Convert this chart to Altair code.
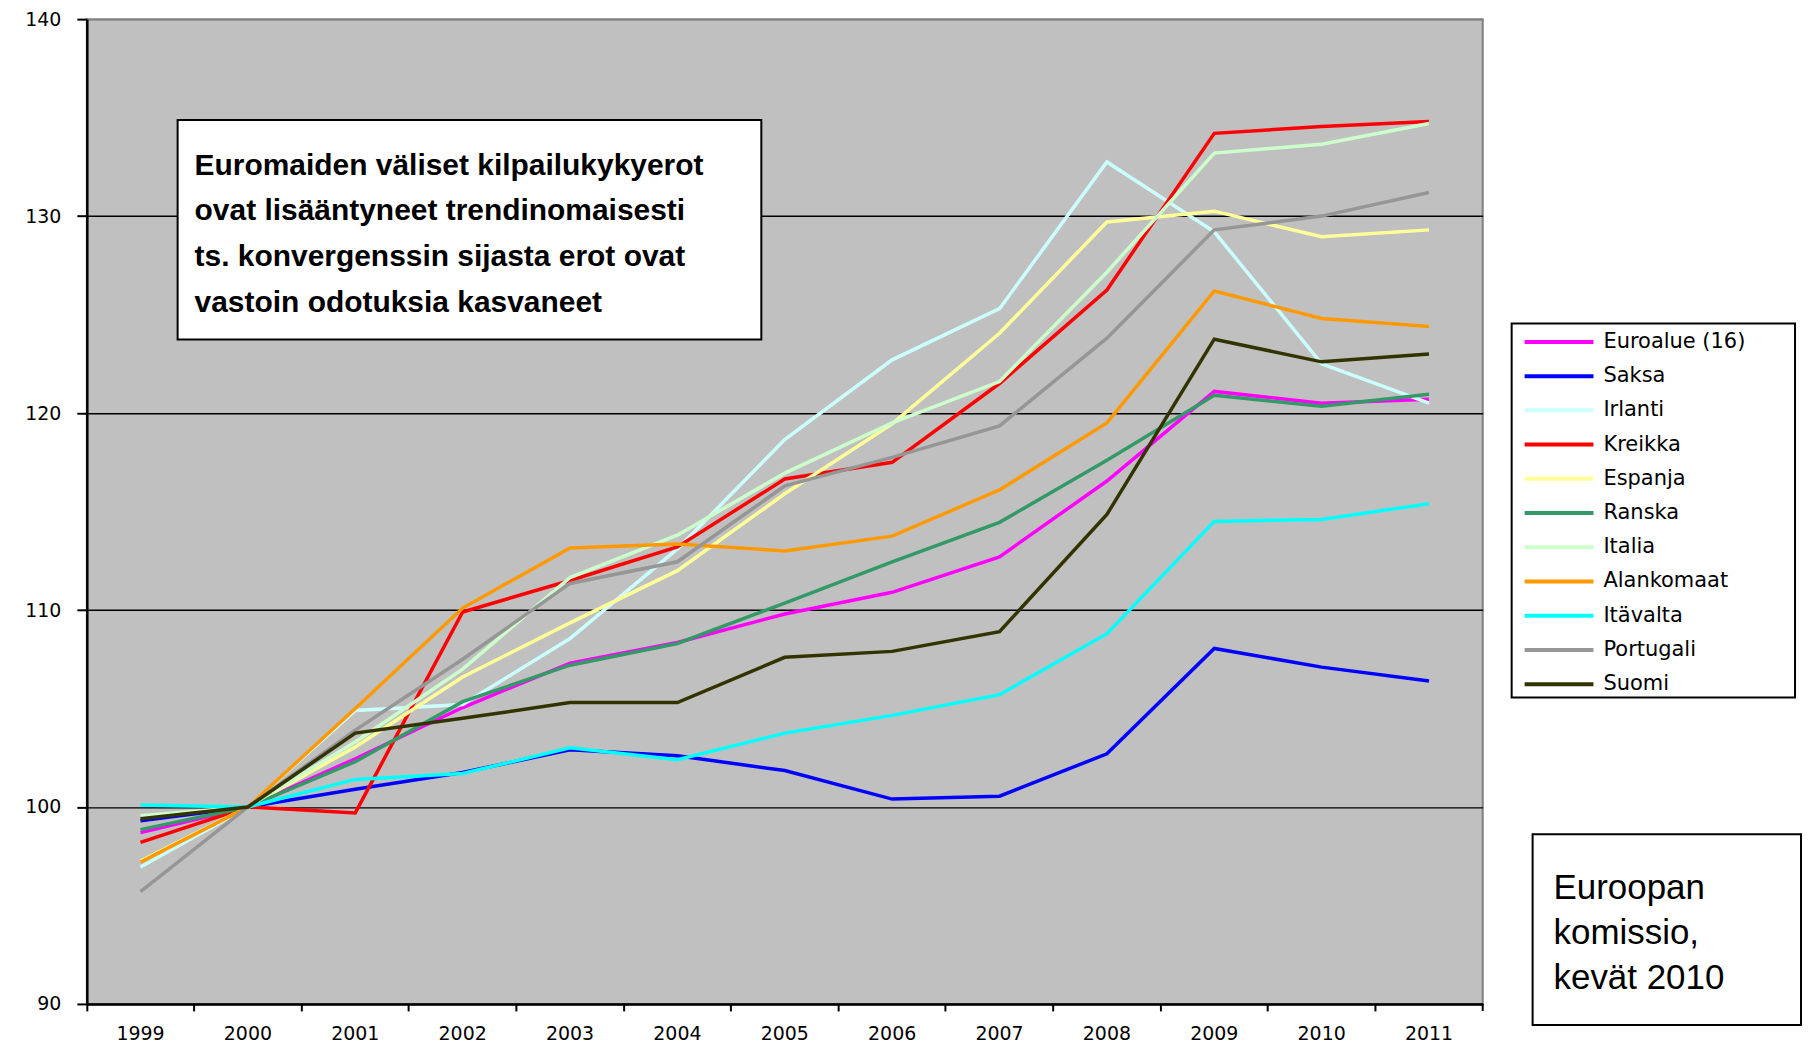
import altair as alt
import pandas as pd

# ---- data ----
years = [str(y) for y in range(1999, 2012)]
series = ["Euroalue (16)", "Saksa", "Irlanti", "Kreikka", "Espanja", "Ranska",
          "Italia", "Alankomaat", "Itävalta", "Portugali", "Suomi"]
colors = ["#FF00FF", "#0000FF", "#CCFFFF", "#FF0000", "#FFFF99", "#339966",
          "#CCFFCC", "#FF9900", "#00FFFF", "#969696", "#333300"]

euroalue = [98.7, 100, 102.45, 105.05, 107.3, 108.35, 109.8, 110.9, 112.7, 116.55, 121.1, 120.5, 120.7]
saksa = [99.3, 100, 100.9, 101.75, 102.9, 102.6, 101.85, 100.4, 100.55, 102.7, 108.05, 107.1, 106.4]
irlanti = [96.95, 100, 104.9, 105.2, 108.55, 113.1, 118.65, 122.7, 125.3, 132.75, 129.2, 122.5, 120.5]
kreikka = [98.2, 100, 99.7, 109.9, 111.5, 113.2, 116.65, 117.5, 121.5, 126.25, 134.2, 134.55, 134.8]
espanja = [97.25, 100, 103.05, 106.6, 109.35, 112.0, 115.9, 119.45, 124.05, 129.7, 130.25, 128.95, 129.3]
ranska = [98.85, 100, 102.3, 105.35, 107.2, 108.3, 110.35, 112.45, 114.45, 117.6, 120.9, 120.35, 120.95]
italia = [99.55, 100, 103.3, 107.0, 111.65, 113.8, 116.95, 119.5, 121.6, 127.15, 133.2, 133.65, 134.7]
alankomaat = [97.2, 100, 105.0, 110.1, 113.15, 113.35, 113.0, 113.75, 116.1, 119.5, 126.2, 124.8, 124.4]
itavalta = [100.1, 100, 101.4, 101.7, 103.0, 102.4, 103.75, 104.65, 105.7, 108.8, 114.5, 114.6, 115.4]
portugali = [95.7, 100, 103.9, 107.5, 111.35, 112.45, 116.3, 117.75, 119.35, 123.8, 129.3, 130.0, 131.2]
suomi = [99.4, 100, 103.75, 104.5, 105.3, 105.3, 107.6, 107.9, 108.9, 114.85, 123.75, 122.6, 123.0]

all_values = [euroalue, saksa, irlanti, kreikka, espanja, ranska,
              italia, alankomaat, itavalta, portugali, suomi]

y_ticks = [90, 100, 110, 120, 130, 140]

note_lines = ["Euromaiden väliset kilpailukykyerot",
              "ovat lisääntyneet trendinomaisesti",
              "ts. konvergenssin sijasta erot ovat",
              "vastoin odotuksia kasvaneet"]
source_lines = ["Euroopan", "komissio,", "kevät 2010"]

rows = []
for name, vals in zip(series, all_values):
    for yr, v in zip(years, vals):
        rows.append({"vuosi": yr, "indeksi": v, "maa": name})
df = pd.DataFrame(rows)

W, H = 1399, 987
TOP = 10  # plot top in svg coordinates

lines = alt.Chart(df).mark_line(strokeWidth=3.5).encode(
    x=alt.X("vuosi:O", title=None, bandPosition=0.5,
            scale=alt.Scale(type="band", paddingInner=0, paddingOuter=0),
            axis=alt.Axis(bandPosition=0, labelAngle=0,
                          tickSize=7, tickWidth=2, tickColor="black",
                          domainColor="black", domainWidth=2.5,
                          labelPadding=14, labelFont="DejaVu Sans",
                          labelFontSize=19, labelColor="black", grid=False)),
    y=alt.Y("indeksi:Q", title=None,
            scale=alt.Scale(domain=[90, 140], nice=False, zero=False),
            axis=alt.Axis(values=y_ticks, grid=True,
                          gridColor={"condition": {"test": "datum.value === 140", "value": "#808080"},
                                     "value": "black"},
                          gridWidth=1.5, tickSize=10, tickWidth=2, tickColor="black",
                          domainColor="black", domainWidth=2.5, labelPadding=16,
                          labelFont="DejaVu Sans", labelFontSize=19, labelColor="black")),
    color=alt.Color("maa:N", sort=series,
                    scale=alt.Scale(domain=series, range=colors),
                    legend=alt.Legend(title=None, orient="none", legendX=1441, legendY=313,
                                      padding=0,
                                      symbolType="M-1.3125,0H7.3125", symbolSize=256,
                                      symbolStrokeWidth=4, labelFont="DejaVu Sans",
                                      labelFontSize=21, labelColor="black",
                                      rowPadding=12.3, labelOffset=58)),
)

one = pd.DataFrame([{"k": 0}])

# last x tick at the right end of the axis
end_tick = alt.Chart(one).mark_rule(color="black", strokeWidth=2).encode(
    x=alt.value(W), y=alt.value(H), y2=alt.value(H + 7))

legend_box = alt.Chart(one).mark_rect(fill="white", stroke="black", strokeWidth=2).encode(
    x=alt.value(1428), x2=alt.value(1712), y=alt.value(305), y2=alt.value(680))

note_box = alt.Chart(one).mark_rect(fill="white", stroke="black", strokeWidth=2).encode(
    x=alt.value(91), x2=alt.value(676), y=alt.value(101), y2=alt.value(321))
note_text = alt.Chart(one).mark_text(
    text=note_lines, align="left", baseline="alphabetic", font="Liberation Sans",
    fontWeight="bold", fontSize=30, lineHeight=45.7, color="black").encode(
    x=alt.value(108), y=alt.value(156))

src_box = alt.Chart(one).mark_rect(fill="white", stroke="black", strokeWidth=2).encode(
    x=alt.value(1449), x2=alt.value(1718), y=alt.value(817), y2=alt.value(1008))
src_text = alt.Chart(one).mark_text(
    text=source_lines, align="left", baseline="alphabetic", font="Liberation Sans",
    fontSize=35, lineHeight=45, color="black").encode(
    x=alt.value(1470), y=alt.value(882))

chart = alt.layer(legend_box, lines, end_tick, note_box, note_text, src_box, src_text).properties(
    width=W, height=H,
    autosize=alt.AutoSizeParams(type="none"),
    padding={"left": 79, "top": TOP, "right": 320, "bottom": 42},
    background="white",
).configure_view(fill="#C0C0C0", stroke="#808080", strokeWidth=2)

chart.save("out.html", embed_options={"renderer": "svg", "actions": False})
